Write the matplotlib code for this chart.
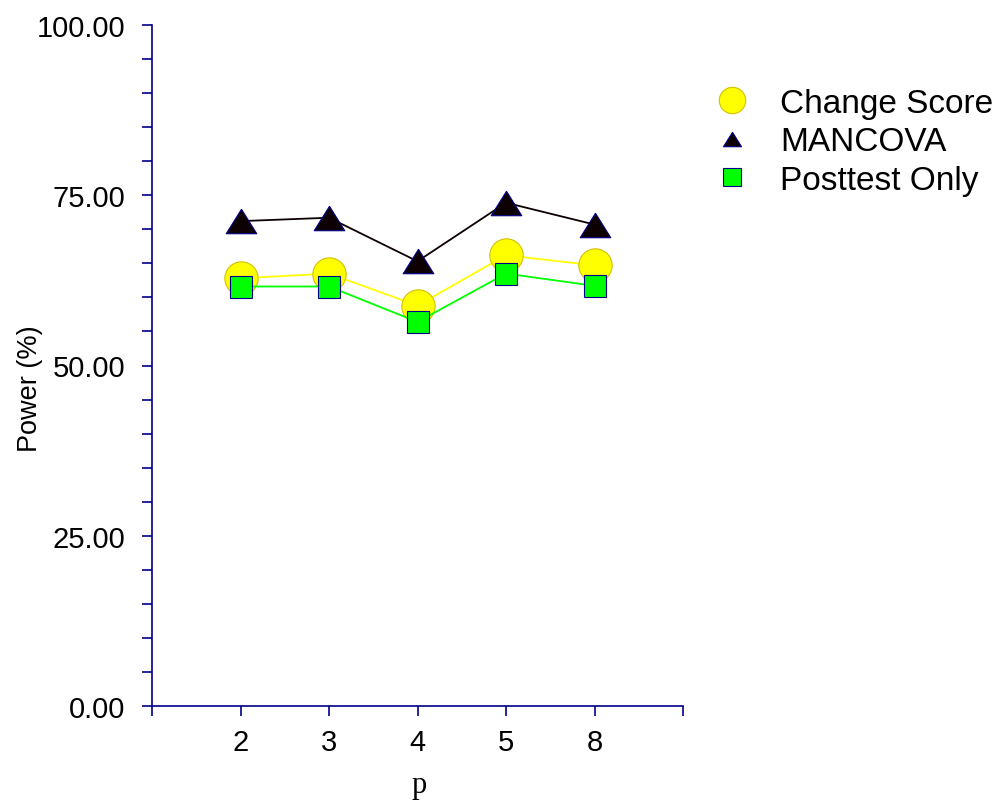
import matplotlib
matplotlib.use('Agg')
import matplotlib.pyplot as plt
from matplotlib.lines import Line2D
from matplotlib.ticker import MultipleLocator

plt.rcParams['font.family'] = ['Liberation Sans', 'DejaVu Sans']

# data
p_labels = ['2', '3', '4', '5', '8']
change_score = [62.8, 63.5, 58.8, 66.2, 64.7]
mancova = [71.2, 71.7, 65.3, 73.9, 70.7]
posttest_only = [61.6, 61.6, 56.4, 63.5, 61.7]

navy = '#00008B'
x = list(range(1, len(p_labels) + 1))

fig = plt.figure(figsize=(10.02, 8.03), dpi=100)
ax = fig.add_axes([152 / 1002, 1 - 707 / 803, (683 - 152) / 1002, (707 - 26) / 803])

# triangle a bit wider than tall
tri = [(0, 0.8), (-1, -0.8), (1, -0.8), (0, 0.8)]

ax.plot(x, change_score, color='#FFFF00', lw=1.3, marker='o', ms=24,
        mfc='#FFFF00', mec='#D4C000', mew=0.8, zorder=3)
ax.plot(x, mancova, color='#0d0000', lw=1.3, marker=tri, ms=22,
        mfc='#0d0000', mec=navy, mew=0.8, zorder=3)
ax.plot(x, posttest_only, color='#00FF00', lw=1.3, marker='s', ms=16.5,
        mfc='#00FF00', mec=navy, mew=0.8, zorder=4)

ax.set_xlim(0, 6)
ax.set_ylim(0, 100)
ax.set_xticks(range(0, 7))
ax.set_xticklabels([''] + p_labels + [''])
ax.yaxis.set_major_locator(MultipleLocator(25))
ax.yaxis.set_minor_locator(MultipleLocator(5))
ax.set_yticklabels([f'{v:.2f}' for v in ax.get_yticks()])

for s in ['top', 'right']:
    ax.spines[s].set_visible(False)
for s in ['left', 'bottom']:
    ax.spines[s].set_color(navy)
    ax.spines[s].set_linewidth(1.2)

ax.tick_params(axis='both', which='both', direction='out', color=navy,
               width=1.2, length=7.2, labelsize=21)
ax.tick_params(axis='y', which='major', pad=12)
ax.tick_params(axis='x', which='major', pad=8.5)

fig.text(30 / 1002, 1 - 389 / 803, 'Power (%)', rotation=90, ha='center',
         va='center', fontsize=19.5)
fig.text(419 / 1002, 1 - 793 / 803, 'p', ha='center', va='baseline',
         fontsize=22, family=['Liberation Serif', 'DejaVu Serif'])

handles = [
    Line2D([], [], ls='none', marker='o', ms=19, mfc='#FFFF00', mec='#D4C000', mew=0.8),
    Line2D([], [], ls='none', marker=tri, ms=13, mfc='#0d0000', mec=navy, mew=0.8),
    Line2D([], [], ls='none', marker='s', ms=13, mfc='#00FF00', mec=navy, mew=0.8),
]
fig.legend(handles, ['Change Score', 'MANCOVA', 'Posttest Only'],
           loc='upper left', bbox_to_anchor=(715.5 / 1002, 1 - 89 / 803),
           frameon=False, borderpad=0, borderaxespad=0, fontsize=24,
           handlelength=1.0, handletextpad=0.95, labelspacing=0.22)

fig.savefig('out.png', dpi=100)
